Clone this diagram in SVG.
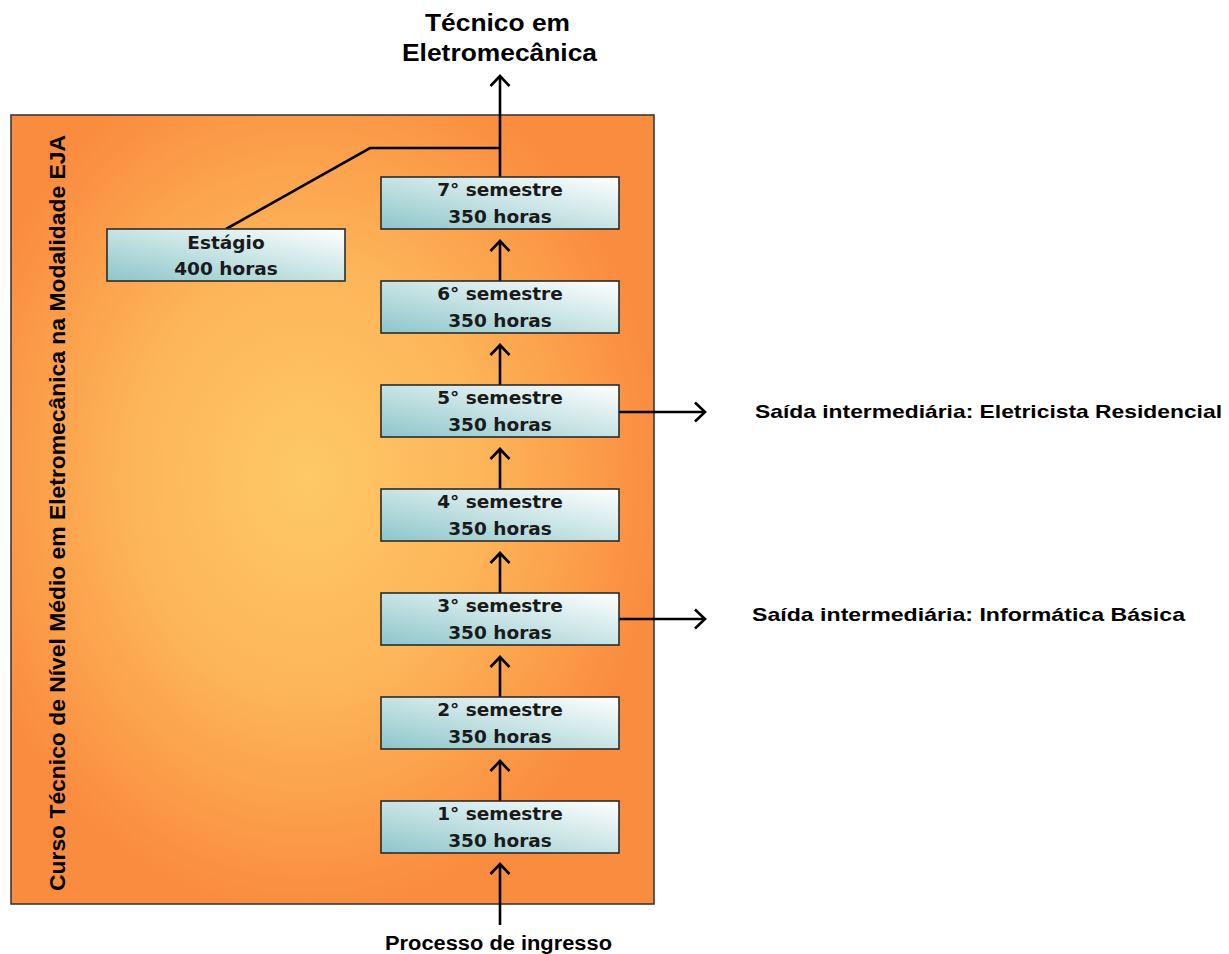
<svg xmlns="http://www.w3.org/2000/svg" width="1229" height="954" viewBox="0 0 1229 954">
<style>
.box{stroke:#2b2b2b;stroke-width:1.6;fill:url(#boxg)}
.bt{font-family:"DejaVu Sans",sans-serif;font-weight:bold;font-size:18.5px;fill:#1a1a1a;text-anchor:middle}
.lbl{font-family:"Liberation Sans",Arial,sans-serif;font-weight:bold;fill:#000}
.con{stroke:#000;stroke-width:2.6;fill:none}
</style>
<defs>
<radialGradient id="bg" cx="0.46" cy="0.46" r="0.55">
<stop offset="0" stop-color="#FEC967"/>
<stop offset="0.5" stop-color="#FDB559"/>
<stop offset="1" stop-color="#FA8C3F"/>
</radialGradient>
<linearGradient id="boxg" x1="0" y1="1" x2="1" y2="0">
<stop offset="0" stop-color="#8CC6CA"/>
<stop offset="0.55" stop-color="#CDE6E7"/>
<stop offset="1" stop-color="#FFFFFF"/>
</linearGradient>
<marker id="ah" markerUnits="userSpaceOnUse" markerWidth="24" markerHeight="24" refX="12" refY="12" orient="auto" viewBox="0 0 24 24">
<path d="M2,2.5 L12,12 L2,21.5" fill="none" stroke="#000" stroke-width="2.6"/>
</marker>
</defs>
<g id="frame">
<rect x="11" y="115" width="643" height="789" fill="url(#bg)" stroke="#3a3a3a" stroke-width="1.6"/>
<text class="lbl" font-size="22" transform="translate(65,891) rotate(-90)" textLength="756" lengthAdjust="spacingAndGlyphs">Curso Técnico de Nível Médio em Eletromecânica na Modalidade EJA</text>
</g>
<g id="connectors">
<line class="con" x1="500" y1="925" x2="500" y2="864" marker-end="url(#ah)"/>
<line class="con" x1="500" y1="801" x2="500" y2="761" marker-end="url(#ah)"/>
<line class="con" x1="500" y1="697" x2="500" y2="657" marker-end="url(#ah)"/>
<line class="con" x1="500" y1="593" x2="500" y2="553" marker-end="url(#ah)"/>
<line class="con" x1="500" y1="489" x2="500" y2="449" marker-end="url(#ah)"/>
<line class="con" x1="500" y1="385" x2="500" y2="345" marker-end="url(#ah)"/>
<line class="con" x1="500" y1="281" x2="500" y2="241" marker-end="url(#ah)"/>
<line class="con" x1="500" y1="177" x2="500" y2="76" marker-end="url(#ah)"/>
<polyline class="con" points="226,229 370,148 500,148"/>
<line class="con" x1="619" y1="412" x2="705" y2="412" marker-end="url(#ah)"/>
<line class="con" x1="619" y1="619" x2="705" y2="619" marker-end="url(#ah)"/>
</g>
<g id="s7"><rect class="box" x="381" y="177" width="238" height="52"/><text class="bt" x="500" y="196">7° semestre</text><text class="bt" x="500" y="223">350 horas</text></g>
<g id="s6"><rect class="box" x="381" y="281" width="238" height="52"/><text class="bt" x="500" y="300">6° semestre</text><text class="bt" x="500" y="327">350 horas</text></g>
<g id="s5"><rect class="box" x="381" y="385" width="238" height="52"/><text class="bt" x="500" y="404">5° semestre</text><text class="bt" x="500" y="431">350 horas</text></g>
<g id="s4"><rect class="box" x="381" y="489" width="238" height="52"/><text class="bt" x="500" y="508">4° semestre</text><text class="bt" x="500" y="535">350 horas</text></g>
<g id="s3"><rect class="box" x="381" y="593" width="238" height="52"/><text class="bt" x="500" y="612">3° semestre</text><text class="bt" x="500" y="639">350 horas</text></g>
<g id="s2"><rect class="box" x="381" y="697" width="238" height="52"/><text class="bt" x="500" y="716">2° semestre</text><text class="bt" x="500" y="743">350 horas</text></g>
<g id="s1"><rect class="box" x="381" y="801" width="238" height="52"/><text class="bt" x="500" y="820">1° semestre</text><text class="bt" x="500" y="847">350 horas</text></g>
<g id="estagio"><rect class="box" x="107" y="229" width="238" height="52"/><text class="bt" x="226" y="249">Estágio</text><text class="bt" x="226" y="275">400 horas</text></g>
<g id="titulo"><text class="lbl" font-size="24" x="425" y="31" textLength="145" lengthAdjust="spacingAndGlyphs">Técnico em</text><text class="lbl" font-size="24" x="402" y="61" textLength="195" lengthAdjust="spacingAndGlyphs">Eletromecânica</text></g>
<g id="ingresso"><text class="lbl" font-size="20" x="385" y="950" textLength="227" lengthAdjust="spacingAndGlyphs">Processo de ingresso</text></g>
<g id="saida5"><text class="lbl" font-size="19" x="755" y="418" textLength="467" lengthAdjust="spacingAndGlyphs">Saída intermediária: Eletricista Residencial</text></g>
<g id="saida3"><text class="lbl" font-size="19" x="752" y="621" textLength="433" lengthAdjust="spacingAndGlyphs">Saída intermediária: Informática Básica</text></g>
</svg>
